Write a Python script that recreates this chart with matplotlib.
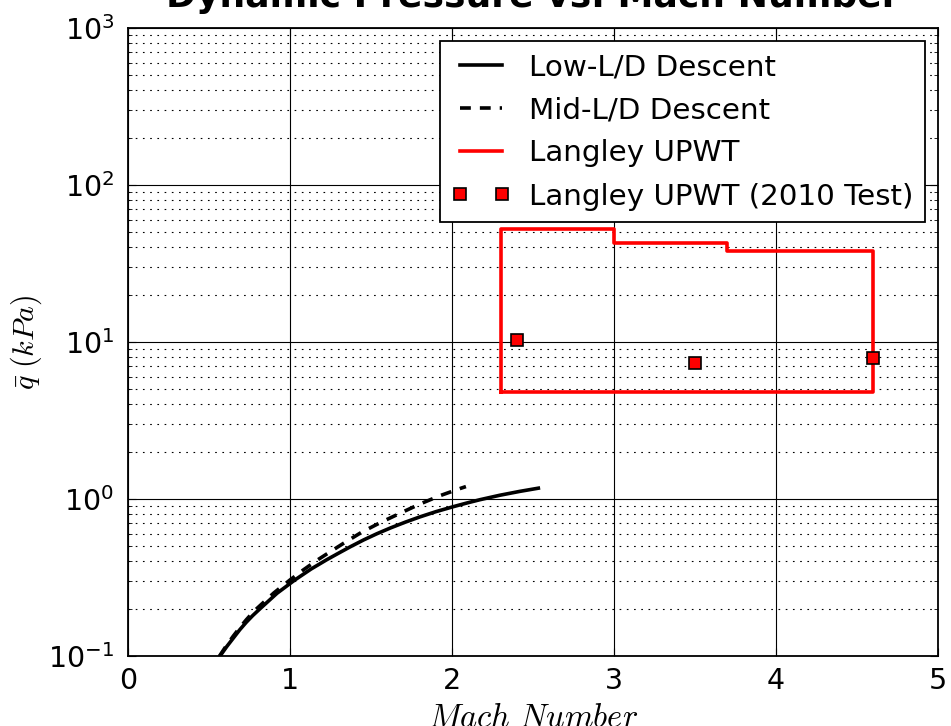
import matplotlib
matplotlib.use("Agg")
import matplotlib.pyplot as plt
from matplotlib.ticker import LogLocator, NullFormatter

# --- data ---
low_mach = [0.568, 0.61, 0.65, 0.69, 0.73, 0.77, 0.815, 0.92, 1.03, 1.13, 1.226, 1.30, 1.375,
            1.455, 1.535, 1.62, 1.71, 1.80, 1.90, 2.007, 2.09, 2.173, 2.296, 2.42, 2.533]
low_q = [0.100, 0.115, 0.130, 0.147, 0.164, 0.181, 0.200, 0.251, 0.305, 0.358, 0.410, 0.452,
         0.498, 0.549, 0.600, 0.654, 0.711, 0.768, 0.830, 0.893, 0.942, 0.990, 1.057, 1.119,
         1.172]

mid_mach = [0.565, 0.61, 0.65, 0.69, 0.73, 0.76, 0.794, 0.90, 1.0, 1.08, 1.165, 1.245, 1.329,
            1.442, 1.556, 1.679, 1.802, 1.926, 2.054, 2.086]
mid_q = [0.100, 0.1175, 0.134, 0.1515, 0.170, 0.184, 0.200, 0.252, 0.305, 0.352, 0.406, 0.459,
         0.521, 0.614, 0.706, 0.811, 0.929, 1.05, 1.17, 1.20]

upwt_mach = [2.3, 2.3, 3.0, 3.0, 3.7, 3.7, 4.6, 4.6, 2.3]
upwt_q = [4.83, 52.5, 52.5, 43.0, 43.0, 38.2, 38.2, 4.83, 4.83]

test_mach = [2.4, 3.5, 4.6]
test_q = [10.3, 7.4, 7.9]

x_ticks = [0, 1, 2, 3, 4, 5]

fig = plt.figure(figsize=(9.51, 7.26), dpi=100)
ax = fig.add_axes([128/951, 70/726, 810/951, 628/726])

ax.plot(low_mach, low_q, color='black', lw=2.6, label='Low-L/D Descent')
ax.plot(mid_mach, mid_q, color='black', lw=2.6, dashes=(3.0, 2.5), label='Mid-L/D Descent')
ax.plot(upwt_mach, upwt_q, color='red', lw=2.6, label='Langley UPWT')
ax.plot(test_mach, test_q, ls='none', marker='s', ms=8.5, mfc='red', mec='black', mew=1.2,
        label='Langley UPWT (2010 Test)')

ax.set_yscale('log')
ax.set_xlim(0, 5)
ax.set_ylim(0.1, 1000)
ax.set_xticks(x_ticks)
ax.yaxis.set_minor_locator(LogLocator(base=10, subs=range(2, 10)))
ax.yaxis.set_minor_formatter(NullFormatter())

ax.grid(True, which='major', color='black', lw=0.8, ls='-')
ax.grid(True, which='minor', axis='y', color='black', lw=0.8, ls=(0, (1.5, 5)))
ax.set_axisbelow(True)

ax.tick_params(which='both', direction='in', top=True, right=True, labelsize=20.5)
ax.tick_params(which='major', length=6)
ax.tick_params(which='minor', length=3)
ax.tick_params(axis='x', pad=8)
ax.tick_params(axis='y', pad=10)
for s in ax.spines.values():
    s.set_linewidth(1.3)

ax.set_xlabel(r'$Mach\ Number$', fontsize=23.5, math_fontfamily='cm', labelpad=4)
ax.set_ylabel(r'$\bar{q}\ (kPa)$', fontsize=21.7, math_fontfamily='cm', labelpad=3)
ax.set_title('Dynamic Pressure vs. Mach Number', fontsize=26, fontweight='bold', pad=15)

leg = ax.legend(loc='upper right', fontsize=21.2, numpoints=2, fancybox=False,
                framealpha=1, edgecolor='black', handlelength=2.0, handletextpad=0.62,
                labelspacing=0.515, borderpad=0.4, borderaxespad=0.45)
leg.get_frame().set_linewidth(1.3)

fig.savefig('out.png', dpi=100)
